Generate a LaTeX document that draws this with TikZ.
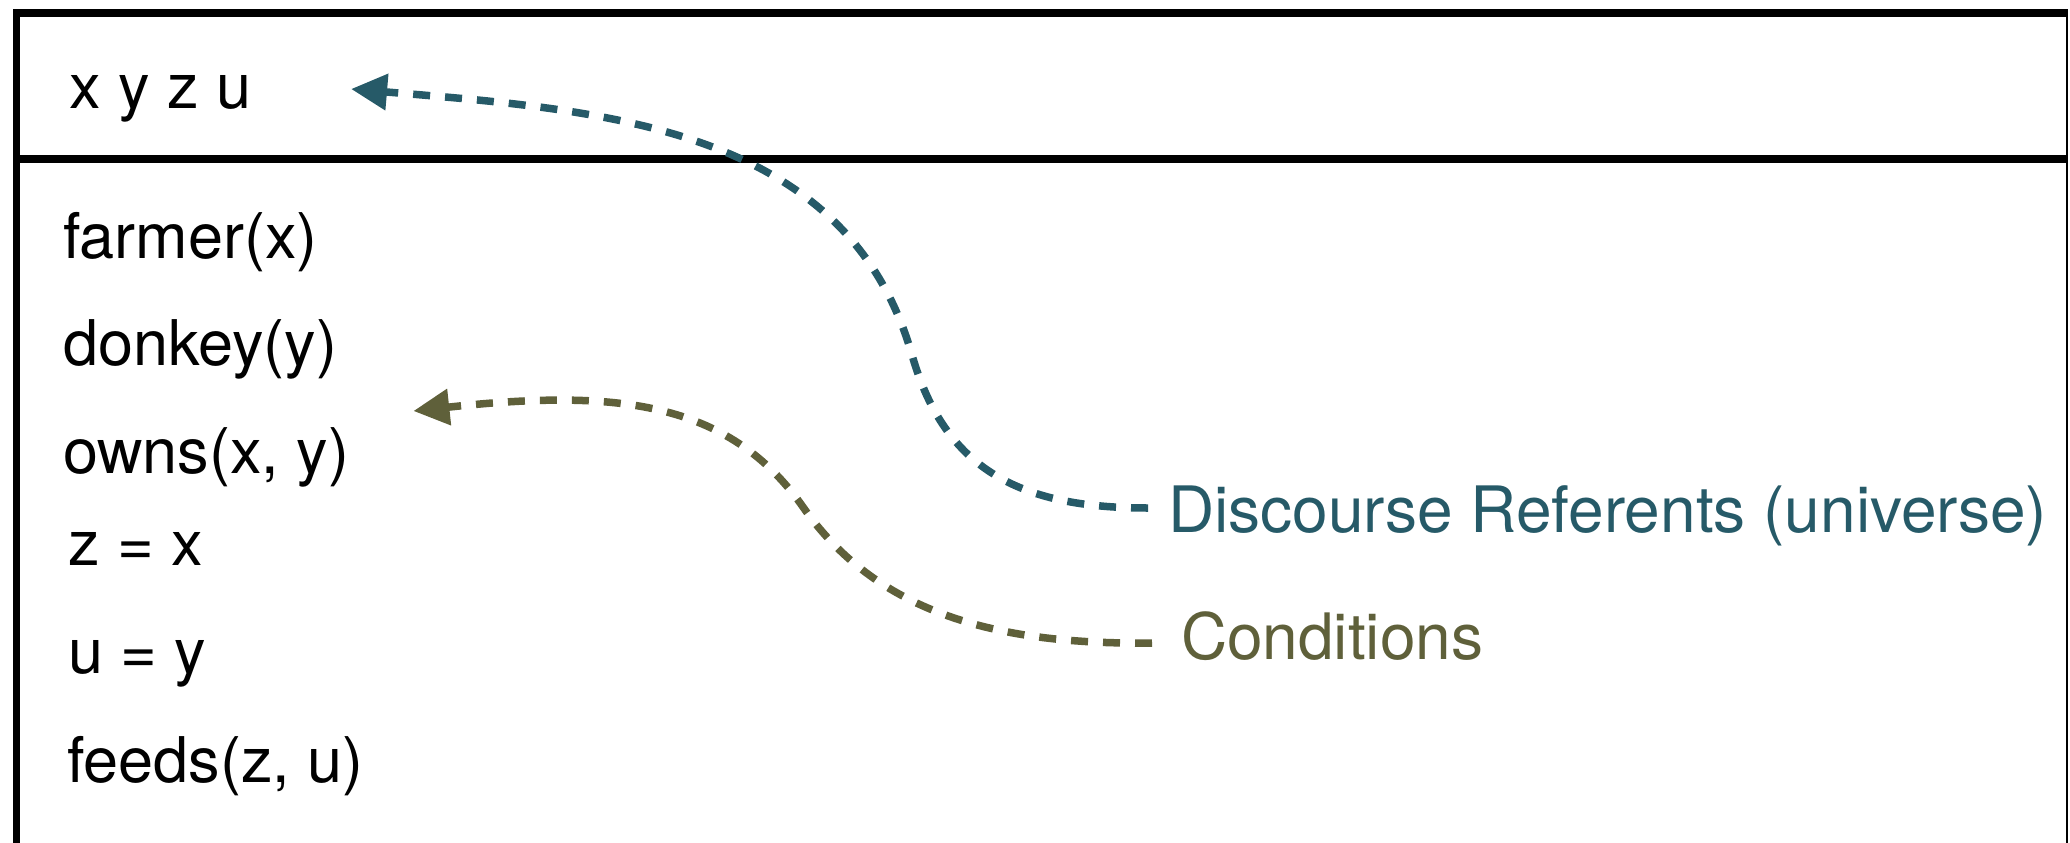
\documentclass[tikz,border=0pt]{standalone}
\usepackage{fontspec}
\setmainfont{TeX Gyre Heros}
\usetikzlibrary{arrows.meta,calc}
\definecolor{refteal}{RGB}{38,90,104}
\definecolor{condolive}{RGB}{95,96,58}
\begin{document}
\begin{tikzpicture}[x=1pt,y=-1pt,
  every node/.style={inner sep=0pt,outer sep=0pt,anchor=base west,
    font=\fontsize{63pt}{75pt}\selectfont},
  labeltext/.style={font=\fontsize{64pt}{76pt}\selectfont},
  frame/.style={draw=black,line width=7.5pt},
  thinframe/.style={draw=black,line width=2pt},
  pointer/.style={line width=7.5pt,dash pattern=on 17pt off 15pt,
    -{Triangle[length=36pt,width=35pt]}},
  refline/.style={pointer,draw=refteal},
  condline/.style={pointer,draw=condolive}]
\useasboundingbox (0,0) rectangle (2070,843);

% box: universe on top, conditions below
\draw[frame] (16.5,850) -- (16.5,13) -- (2068,13);
\draw[frame] (16.5,159) -- (2068,159);
\draw[thinframe] (2067,13) -- (2067,850);

% universe
\node (xyzu) at (69,108) {x y z u};

% conditions
\node (farmer) at (63,258) {farmer(x)};
\node (donkey) at (63,365) {donkey(y)};
\node (owns)   at (63,473) {owns(x, y)};
\node (zx)     at (68,565) {z = x};
\node (uy)     at (68,673) {u = y};
\node (feeds)  at (67,782) {feeds(z, u)};

% labels
\node[labeltext,text=refteal]   (dr)   at (1168,532) {Discourse Referents (universe)};
\node[labeltext,text=condolive] (cond) at (1181,659) {Conditions};

% pointers
\draw[refline] ($(dr.base west)+(-20,-24)$)
  .. controls (1020,508) and (945,470) .. (912,355)
  .. controls (846,125) and (600,110) .. ($(xyzu.base east)+(100,-19)$);
\draw[condline] ($(cond.base west)+(-29,-16)$)
  .. controls (990,645) and (875,610) .. (803,507)
  .. controls (728,400) and (614,389) .. ($(owns.base east)+(64,-62)$);
\end{tikzpicture}
\end{document}
